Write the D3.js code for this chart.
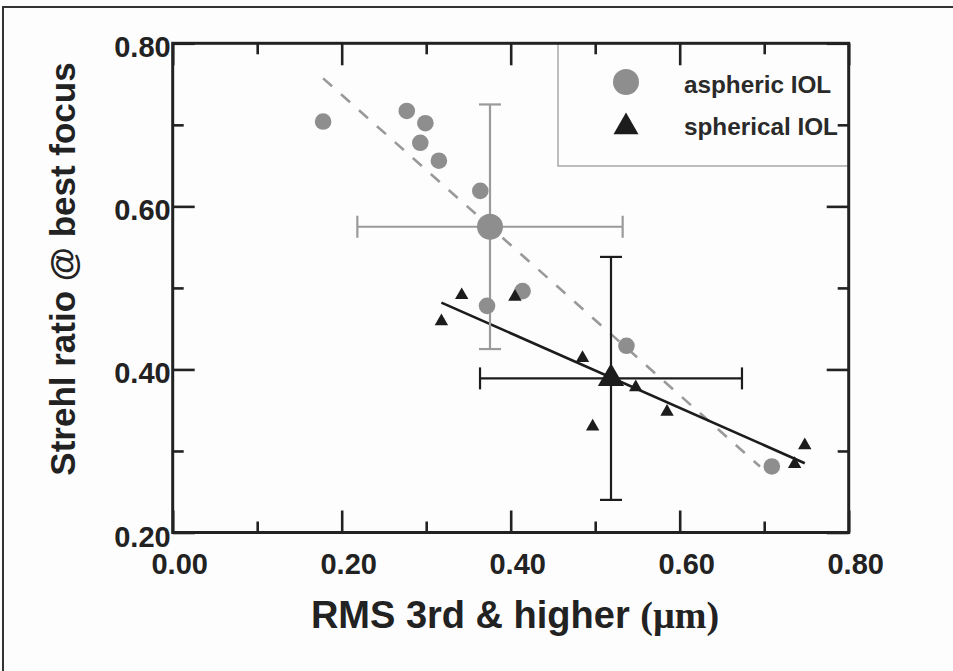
<!DOCTYPE html>
<html>
<head>
<meta charset="utf-8">
<script src="https://cdn.jsdelivr.net/npm/d3@7"></script>
<style>
  html, body { margin: 0; padding: 0; background: #fdfdfd; }
  svg { display: block; }
</style>
</head>
<body>
<svg id="chart" width="953" height="671"></svg>
<script>
// Aspheric IOL eyes: RMS of 3rd & higher order aberrations vs Strehl ratio
const asphericX = [0.178, 0.277, 0.299, 0.293, 0.315, 0.364, 0.372, 0.414, 0.537, 0.709];
const asphericY = [0.704, 0.717, 0.702, 0.678, 0.656, 0.619, 0.478, 0.496, 0.429, 0.281];
// Spherical IOL eyes
const sphericalX = [0.318, 0.342, 0.405, 0.485, 0.497, 0.548, 0.585, 0.736, 0.748];
const sphericalY = [0.459, 0.491, 0.489, 0.414, 0.330, 0.378, 0.348, 0.284, 0.307];

// Group means with standard deviations [meanX, sdX, meanY, sdY]
const asphericMean = [0.3755, 0.157, 0.575, 0.150];
const sphericalMean = [0.5187, 0.155, 0.389, 0.149];

// Linear fits, given by their end points
const asphericFitX = [0.178, 0.695];
const asphericFitY = [0.757, 0.281];
const sphericalFitX = [0.318, 0.748];
const sphericalFitY = [0.482, 0.285];

// Axis ticks
const majorTicks = [0.0, 0.2, 0.4, 0.6, 0.8];
const minorTicksX = [0.1, 0.3, 0.5, 0.7];
const yMajorTicks = [0.2, 0.4, 0.6, 0.8];
const yMinorTicks = [0.3, 0.5, 0.7];

const legendLabels = ["aspheric IOL", "spherical IOL"];

const GREY = "#8e8e8e";
const BLACK = "#1c1c1c";
const FONT = "'Liberation Sans', Arial, Helvetica, sans-serif";

const svg = d3.select("#chart");

// Outer frame (top and left edges)
svg.append("path")
  .attr("d", "M3,671 L3,7 L953,7")
  .attr("fill", "none")
  .attr("stroke", "#333")
  .attr("stroke-width", 2);

const pLeft = 172.7, pRight = 848.7, pTop = 43.3, pBottom = 532.5;
const x = d3.scaleLinear().domain([0, 0.8]).range([pLeft, pRight]);
const y = d3.scaleLinear().domain([0.2, 0.8]).range([pBottom, pTop]);

const plot = svg.append("g");

// Legend box
plot.append("rect")
  .attr("x", 558).attr("y", pTop)
  .attr("width", pRight - 558).attr("height", 166 - pTop)
  .attr("fill", "none")
  .attr("stroke", "#a8a8a8")
  .attr("stroke-width", 1.5);

// Inward ticks on all four sides
function tickAxis(axisFn, scale, values, size, transform) {
  const g = plot.append("g")
    .attr("transform", transform)
    .call(axisFn(scale).tickValues(values).tickSize(-size).tickSizeOuter(0).tickFormat(""));
  g.select(".domain").remove();
  g.selectAll(".tick line").attr("stroke", "#222").attr("stroke-width", 2.6);
}
tickAxis(d3.axisBottom, x, majorTicks, 22, `translate(0,${pBottom})`);
tickAxis(d3.axisBottom, x, minorTicksX, 11, `translate(0,${pBottom})`);
tickAxis(d3.axisTop, x, majorTicks, 22, `translate(0,${pTop})`);
tickAxis(d3.axisTop, x, minorTicksX, 11, `translate(0,${pTop})`);
tickAxis(d3.axisLeft, y, yMajorTicks, 22, `translate(${pLeft},0)`);
tickAxis(d3.axisLeft, y, yMinorTicks, 11, `translate(${pLeft},0)`);
tickAxis(d3.axisRight, y, yMajorTicks, 22, `translate(${pRight},0)`);
tickAxis(d3.axisRight, y, yMinorTicks, 11, `translate(${pRight},0)`);

// Plot frame
plot.append("rect")
  .attr("x", pLeft).attr("y", pTop)
  .attr("width", pRight - pLeft).attr("height", pBottom - pTop)
  .attr("fill", "none")
  .attr("stroke", "#222")
  .attr("stroke-width", 3);

// Tick labels
plot.selectAll("text.xlab").data(majorTicks).enter().append("text")
  .attr("class", "xlab")
  .attr("x", d => x(d) + 7)
  .attr("y", 574)
  .attr("text-anchor", "middle")
  .attr("font-family", FONT).attr("font-weight", "bold").attr("font-size", 29)
  .attr("fill", "#222")
  .text(d3.format(".2f"));

plot.selectAll("text.ylab").data(yMajorTicks).enter().append("text")
  .attr("class", "ylab")
  .attr("x", pLeft - 2)
  .attr("y", d => y(d) + 14)
  .attr("text-anchor", "end")
  .attr("font-family", FONT).attr("font-weight", "bold").attr("font-size", 29)
  .attr("fill", "#222")
  .text(d3.format(".2f"));

// Axis titles
const xTitle = svg.append("text")
  .attr("x", 515).attr("y", 628)
  .attr("text-anchor", "middle")
  .attr("font-family", FONT).attr("font-weight", "bold").attr("font-size", 38)
  .attr("fill", "#222");
xTitle.append("tspan").text("RMS 3rd & higher ");
xTitle.append("tspan")
  .attr("font-family", "'Liberation Serif', 'DejaVu Serif', serif")
  .text("(µm)");

svg.append("text")
  .attr("transform", "translate(75,269) rotate(-90)")
  .attr("text-anchor", "middle")
  .attr("font-family", FONT).attr("font-weight", "bold").attr("font-size", 35)
  .attr("fill", "#222")
  .text("Strehl ratio @ best focus");

// Fit lines
const line = d3.line().x(d => x(d[0])).y(d => y(d[1]));
plot.append("path")
  .attr("d", line(d3.zip(asphericFitX, asphericFitY)))
  .attr("stroke", "#999").attr("stroke-width", 2.6)
  .attr("stroke-dasharray", "12,12")
  .attr("fill", "none");
plot.append("path")
  .attr("d", line(d3.zip(sphericalFitX, sphericalFitY)))
  .attr("stroke", BLACK).attr("stroke-width", 2.6)
  .attr("fill", "none");

// Error bars around the group means
function errorBars(m, color) {
  const g = plot.append("g").attr("stroke", color).attr("stroke-width", 2.2).attr("fill", "none");
  const cx = x(m[0]), cy = y(m[2]);
  const x0 = x(m[0] - m[1]), x1 = x(m[0] + m[1]);
  const y0 = y(m[2] - m[3]), y1 = y(m[2] + m[3]);
  const c = 11;
  g.append("line").attr("x1", x0).attr("x2", x1).attr("y1", cy).attr("y2", cy);
  g.append("line").attr("x1", x0).attr("x2", x0).attr("y1", cy - c).attr("y2", cy + c);
  g.append("line").attr("x1", x1).attr("x2", x1).attr("y1", cy - c).attr("y2", cy + c);
  g.append("line").attr("x1", cx).attr("x2", cx).attr("y1", y0).attr("y2", y1);
  g.append("line").attr("x1", cx - c).attr("x2", cx + c).attr("y1", y0).attr("y2", y0);
  g.append("line").attr("x1", cx - c).attr("x2", cx + c).attr("y1", y1).attr("y2", y1);
}
errorBars(asphericMean, "#9a9a9a");
errorBars(sphericalMean, BLACK);

// Aspheric points
plot.selectAll("circle.asph").data(d3.zip(asphericX, asphericY)).enter().append("circle")
  .attr("class", "asph")
  .attr("cx", d => x(d[0])).attr("cy", d => y(d[1]))
  .attr("r", 8.3)
  .attr("fill", GREY);

// Spherical points
const smallTri = d3.symbol().type(d3.symbolTriangle).size(78);
plot.selectAll("path.sph").data(d3.zip(sphericalX, sphericalY)).enter().append("path")
  .attr("class", "sph")
  .attr("transform", d => `translate(${x(d[0])},${y(d[1])})`)
  .attr("d", smallTri)
  .attr("fill", BLACK);

// Group means
plot.append("circle")
  .attr("cx", x(asphericMean[0])).attr("cy", y(asphericMean[2]))
  .attr("r", 13).attr("fill", GREY);
plot.append("path")
  .attr("transform", `translate(${x(sphericalMean[0])},${y(sphericalMean[2])})`)
  .attr("d", d3.symbol().type(d3.symbolTriangle).size(300))
  .attr("fill", BLACK);

// Legend entries
plot.append("circle").attr("cx", 626).attr("cy", 82).attr("r", 13).attr("fill", GREY);
plot.append("path")
  .attr("transform", "translate(626,127)")
  .attr("d", d3.symbol().type(d3.symbolTriangle).size(270))
  .attr("fill", BLACK);
plot.selectAll("text.leg").data(legendLabels).enter().append("text")
  .attr("class", "leg")
  .attr("x", 684)
  .attr("y", (d, i) => 93 + i * 42)
  .attr("font-family", FONT).attr("font-weight", "bold").attr("font-size", 24.3)
  .attr("fill", "#2a2a2a")
  .text(d => d);
</script>
</body>
</html>
